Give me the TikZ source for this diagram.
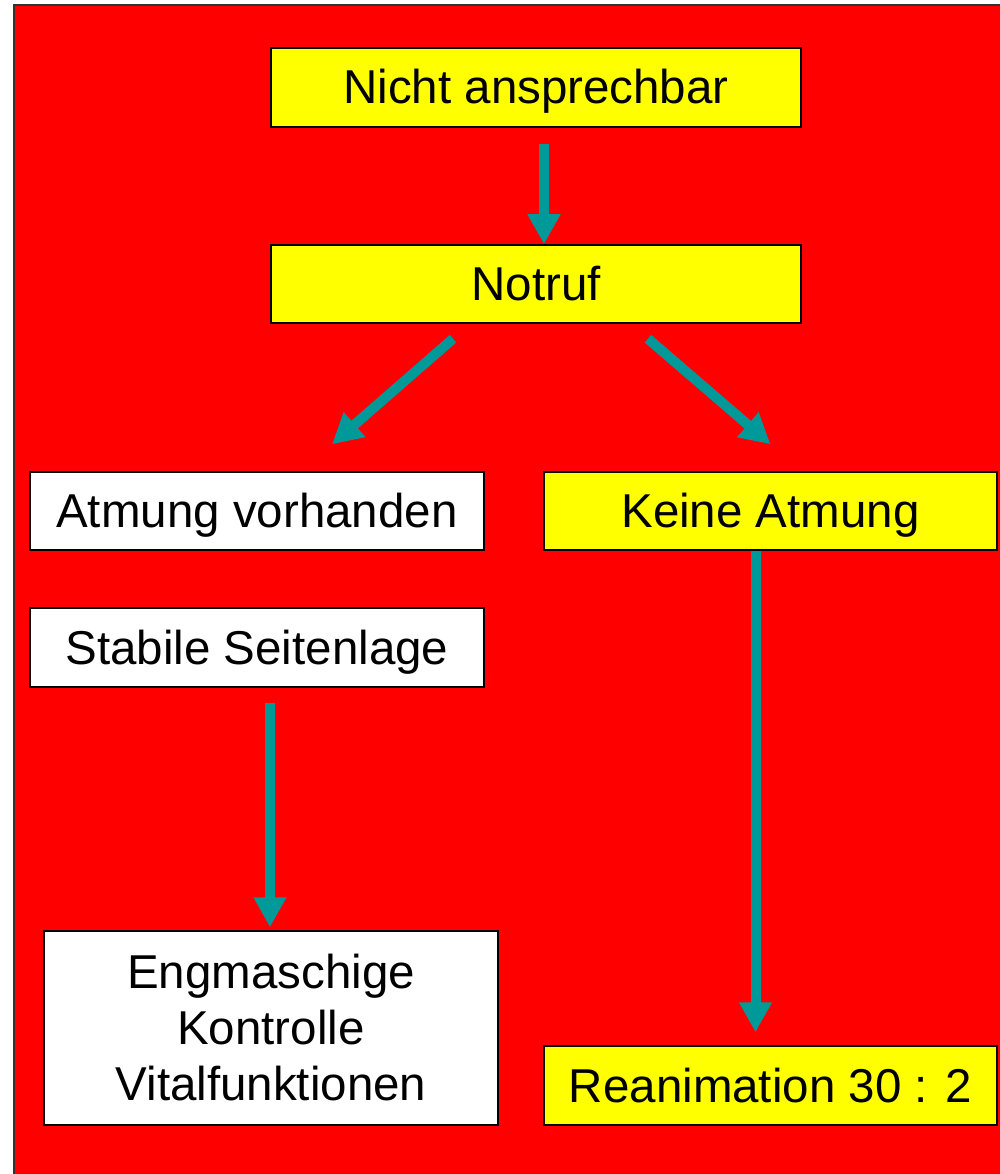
\documentclass[tikz,border=0pt]{standalone}
\usepackage{fontspec}
\setmainfont{Liberation Sans}
\usetikzlibrary{arrows.meta,positioning}

\definecolor{rot}{HTML}{FF0000}
\definecolor{gelb}{HTML}{FFFF00}
\definecolor{petrol}{HTML}{009999}

\begin{document}
\begin{tikzpicture}[x=1pt,y=-1pt,
	kasten/.style={draw=black,line width=1.5pt,inner sep=0pt,minimum height=78pt,font=\fontsize{47.5}{56}\selectfont,align=center},
	zeile/.style={text height=35pt,text depth=2pt},
	gelbkasten/.style={kasten,zeile,fill=gelb},
	weisskasten/.style={kasten,zeile,fill=white},
	pfeil/.style={draw=petrol,line width=10pt,-{Triangle[length=30pt,width=31pt]}}]
	\useasboundingbox (0,0) rectangle (1000,1174);
	\draw[fill=rot,line width=1.5pt,draw=black!80] (14,5) rectangle (1004,1178);

	\node[gelbkasten,minimum width=530pt,minimum height=79pt] (nicht) at (536,87.5) {Nicht ansprechbar};
	\node[gelbkasten,minimum width=530pt] (notruf) at (536,284) {Notruf};
	\node[weisskasten,minimum width=454pt] (atmung) at (257,511) {Atmung vorhanden};
	\node[gelbkasten,minimum width=453pt] (keine) at (770.5,511) {Keine Atmung};
	\node[weisskasten,minimum width=454pt,minimum height=79pt] (seite) at (257,647.5) {Stabile Seitenlage};
	\node[kasten,fill=white,minimum width=454pt,minimum height=194pt] (kontrolle) at (271,1028) {Engmaschige\\Kontrolle\\Vitalfunktionen};
	\node[gelbkasten,minimum width=453pt,minimum height=79pt] (reanim) at (770.5,1085.5) {Reanimation 30 : 2};

	% Pfeile
	\draw[pfeil] ([xshift=8pt,yshift=-16pt]nicht.south) -- ([xshift=8pt]notruf.north);
	\draw[pfeil] ([xshift=-83pt,yshift=-15pt]notruf.south) -- ([xshift=75pt,yshift=27pt]atmung.north);
	\draw[pfeil] ([xshift=112pt,yshift=-15pt]notruf.south) -- ([yshift=27pt]keine.north);
	\draw[pfeil] ([xshift=-15pt]keine.south) -- ([xshift=-15pt,yshift=13pt]reanim.north);
	\draw[pfeil] ([xshift=13pt,yshift=-15pt]seite.south) -- ([xshift=-1pt,yshift=3pt]kontrolle.north);
\end{tikzpicture}
\end{document}
